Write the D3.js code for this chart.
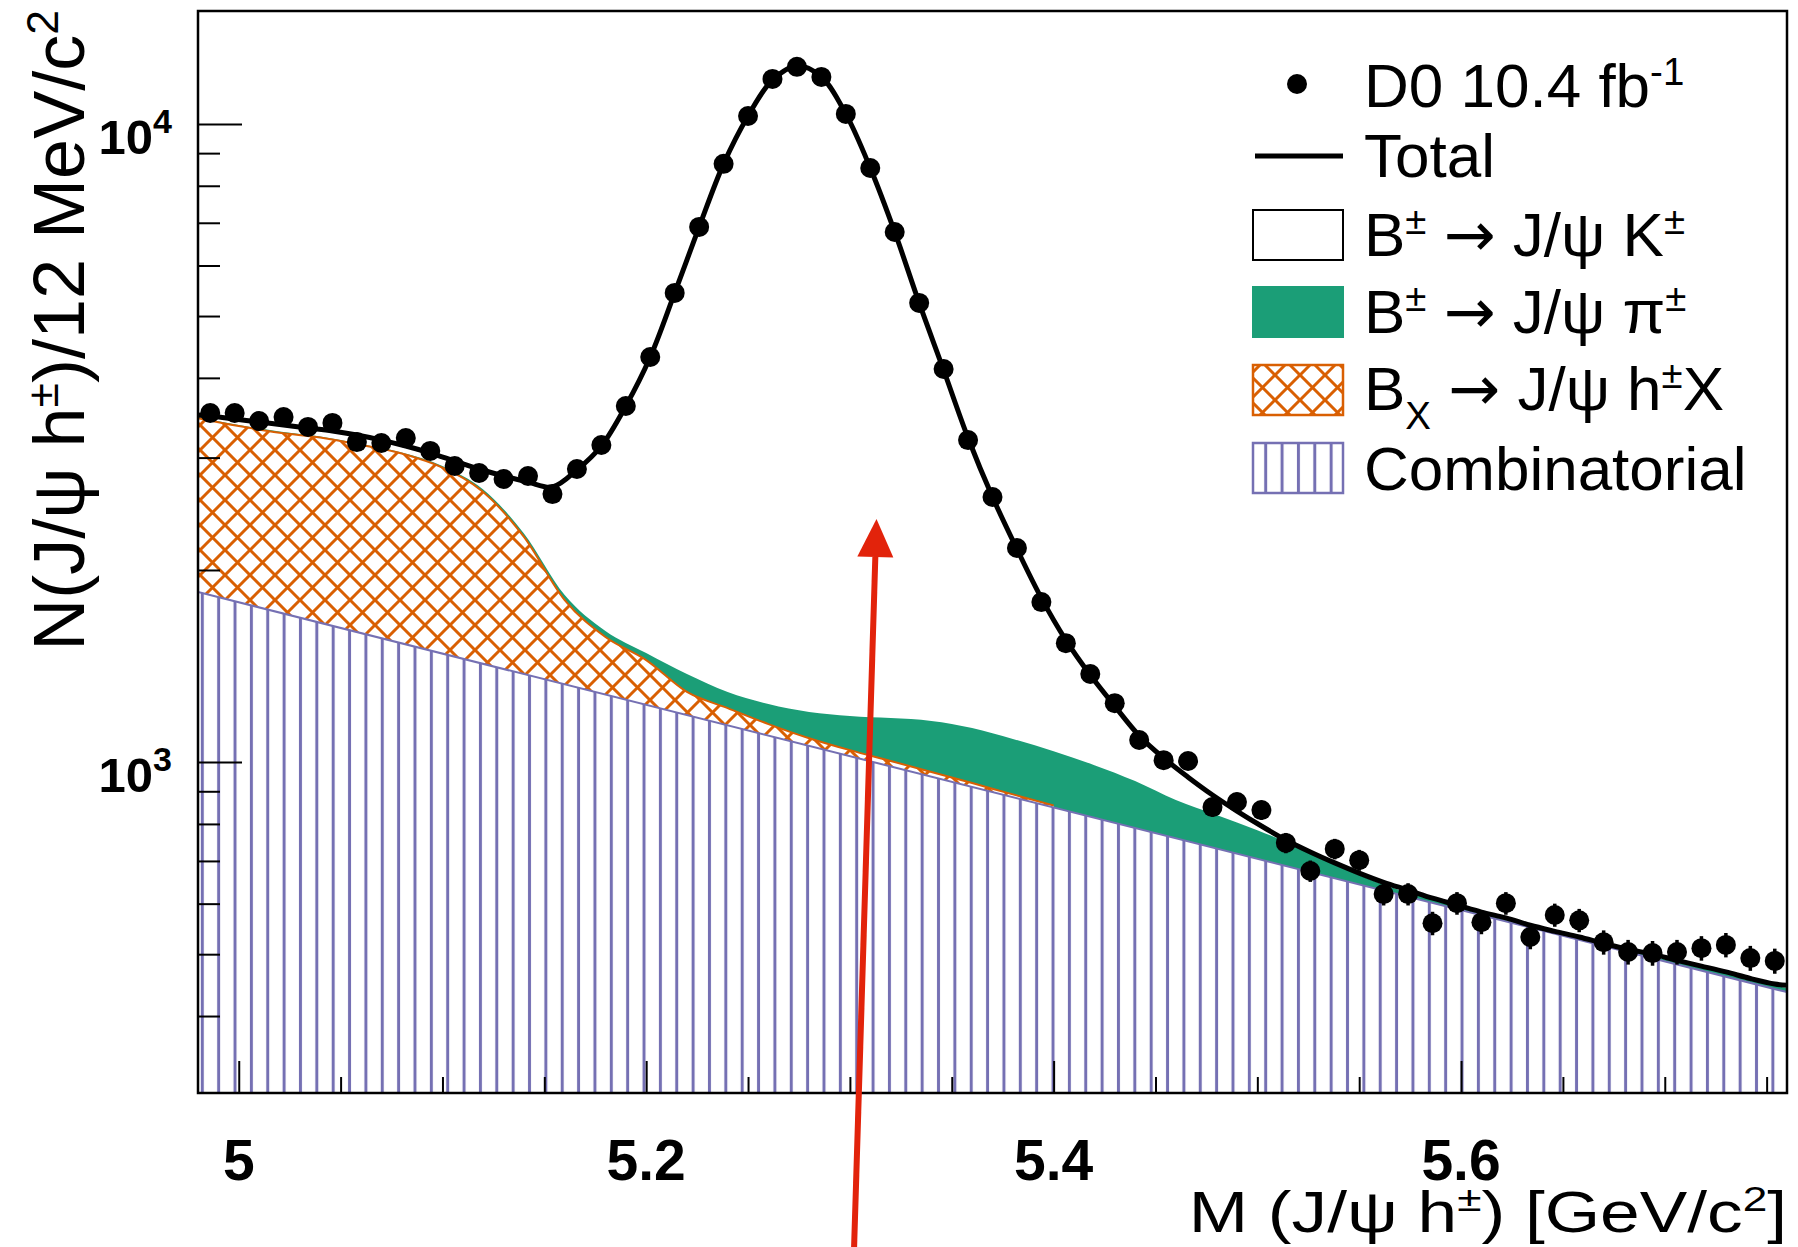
<!DOCTYPE html>
<html>
<head>
<meta charset="utf-8">
<script src="https://cdn.jsdelivr.net/npm/d3@7"></script>
<style>
  html, body { margin: 0; padding: 0; background: #ffffff; }
  svg { display: block; font-family: "Liberation Sans", Arial, Helvetica, sans-serif; }
</style>
</head>
<body>
<svg id="chart" width="1798" height="1247"></svg>
<script>
// ---- data: J/psi h invariant mass, 12 MeV bins from 4.98 to 5.76 GeV ----
const massCenters = [
  4.986, 4.998, 5.010, 5.022, 5.034, 5.046, 5.058, 5.070, 5.082, 5.094,
  5.106, 5.118, 5.130, 5.142, 5.154, 5.166, 5.178, 5.190, 5.202, 5.214,
  5.226, 5.238, 5.250, 5.262, 5.274, 5.286, 5.298, 5.310, 5.322, 5.334,
  5.346, 5.358, 5.370, 5.382, 5.394, 5.406, 5.418, 5.430, 5.442, 5.454,
  5.466, 5.478, 5.490, 5.502, 5.514, 5.526, 5.538, 5.550, 5.562, 5.574,
  5.586, 5.598, 5.610, 5.622, 5.634, 5.646, 5.658, 5.670, 5.682, 5.694,
  5.706, 5.718, 5.730, 5.742, 5.754
];

// observed candidates per bin
const counts = [
  3524, 3524, 3423, 3474, 3351, 3400, 3173, 3162, 3220, 3073,
  2910, 2838, 2777, 2807, 2630, 2879, 3140, 3614, 4313, 5435,
  6896, 8658, 10292, 11763, 12287, 11850, 10368, 8531, 6772, 5242,
  4130, 3196, 2602, 2165, 1781, 1536, 1374, 1237, 1083, 1007,
  1004, 850, 866, 841, 747, 675, 731, 702, 621, 621,
  559, 601, 561, 601, 532, 576, 565, 522, 504, 502,
  504, 511, 517, 493, 488
];

// total fit evaluated at the bin centres, plus the two range edges
const totalFit = [
  3486, 3449, 3411, 3375, 3338, 3302, 3255, 3196, 3128, 3050,
  2963, 2879, 2807, 2747, 2698, 2869, 3128, 3614, 4313, 5435,
  6896, 8658, 10292, 11722, 12330, 11850, 10368, 8531, 6772, 5242,
  4115, 3220, 2602, 2157, 1807, 1553, 1369, 1224, 1100, 1015,
  947, 888, 838, 794, 755, 723, 695, 670, 648, 630,
  612, 597, 582, 570, 555, 543, 532, 520, 509, 500,
  489, 479, 469, 458, 449
];
const rangeEdges = [4.98, 5.76];
const totalAtEdges = [3500, 447];

// combinatorial background (exponential: straight on the log axis)
const combMass = [4.98, 5.76];
const combFit = [1847, 436];

// cumulative: combinatorial + B_X -> J/psi h X
const bxMass = [
  4.98, 5.00, 5.02, 5.04, 5.06, 5.08, 5.10, 5.12, 5.14, 5.16, 5.18,
  5.20, 5.22, 5.24, 5.26, 5.28, 5.30, 5.32, 5.34, 5.36, 5.38, 5.40
];
const bxTop = [
  3459, 3362, 3282, 3225, 3140, 3044, 2893, 2649, 2253, 1794, 1570,
  1445, 1288, 1215, 1147, 1090, 1044, 1004, 965, 927, 890, 855
];

// cumulative: combinatorial + B_X + B -> J/psi pi
const piMass = [
  4.98, 5.00, 5.02, 5.04, 5.06, 5.08, 5.10, 5.12, 5.14, 5.16,
  5.18, 5.20, 5.22, 5.24, 5.26, 5.28, 5.30, 5.32, 5.34, 5.36,
  5.38, 5.40, 5.42, 5.44, 5.46, 5.48, 5.50, 5.52, 5.54, 5.56,
  5.58, 5.60, 5.62, 5.64, 5.66, 5.68, 5.70, 5.72, 5.74, 5.76
];
const piTop = [
  3474, 3375, 3296, 3237, 3151, 3056, 2910, 2673, 2281, 1827,
  1605, 1482, 1374, 1288, 1233, 1198, 1181, 1172, 1160, 1131,
  1087, 1040, 989, 934, 872, 826, 782, 736, 687, 646,
  616, 590, 567, 548, 526, 510, 491, 475, 459, 442
];

// axis ticks
const xMajorTicks = [5.0, 5.2, 5.4, 5.6];
const xTickLabels = ["5", "5.2", "5.4", "5.6"];
const xMinorTicks = [5.05, 5.1, 5.15, 5.25, 5.3, 5.35, 5.45, 5.5, 5.55, 5.65, 5.7, 5.75];
const yMajorTicks = [1000, 10000];
const yTickExponents = ["3", "4"];
const yMinorTicks = [400, 500, 600, 700, 800, 900, 2000, 3000, 4000, 5000, 6000, 7000, 8000, 9000];

// ---- colours ----
const colPi = "#1b9e77";
const colBx = "#d95f02";
const colComb = "#7570b3";
const colArrow = "#e2230b";

// ---- layout ----
const plot = { left: 198, right: 1787, top: 11, bottom: 1093 };

const svg = d3.select("#chart");
const x = d3.scaleLinear().domain([4.98, 5.76]).range([plot.left, plot.right]);
const y = d3.scaleLog().domain([303, 15030]).range([plot.bottom, plot.top]);

const defs = svg.append("defs");
defs.append("clipPath").attr("id", "plotClip")
  .append("rect")
  .attr("x", plot.left).attr("y", plot.top)
  .attr("width", plot.right - plot.left).attr("height", plot.bottom - plot.top);

// vertical hatch for the combinatorial component
const combStep = 16.36;
const combPat = defs.append("pattern").attr("id", "combHatch")
  .attr("patternUnits", "userSpaceOnUse")
  .attr("x", 202.3 - combStep / 2).attr("y", 0)
  .attr("width", combStep).attr("height", 40);
combPat.append("rect").attr("width", combStep).attr("height", 40).attr("fill", "#fff");
combPat.append("line")
  .attr("x1", combStep / 2).attr("x2", combStep / 2).attr("y1", 0).attr("y2", 40)
  .attr("stroke", colComb).attr("stroke-width", 3);

// diagonal cross-hatch for B_X
const bxStep = 25;
const bxPat = defs.append("pattern").attr("id", "bxHatch")
  .attr("patternUnits", "userSpaceOnUse")
  .attr("x", 0).attr("y", 0)
  .attr("width", bxStep).attr("height", bxStep);
bxPat.append("rect").attr("width", bxStep).attr("height", bxStep).attr("fill", "#fff");
const s = bxStep;
bxPat.append("path")
  .attr("d", `M-5,-5L${s + 5},${s + 5}M${s + 5},-5L-5,${s + 5}` +
             `M-5,5L5,-5M${s - 5},${s + 5}L${s + 5},${s - 5}` +
             `M${s - 5},-5L${s + 5},5M-5,${s - 5}L5,${s + 5}`)
  .attr("stroke", colBx).attr("stroke-width", 3).attr("fill", "none");

const gPlot = svg.append("g").attr("clip-path", "url(#plotClip)");

const zip = (xs, ys) => xs.map((m, i) => [m, ys[i]]);

// B -> J/psi pi (drawn first, lower components painted over it)
gPlot.append("path")
  .datum(zip(piMass, piTop))
  .attr("fill", colPi)
  .attr("d", d3.area().curve(d3.curveMonotoneX)
    .x(d => x(d[0])).y0(plot.bottom).y1(d => y(d[1])));

// B_X -> J/psi h X
gPlot.append("path")
  .datum(zip(bxMass, bxTop))
  .attr("fill", "url(#bxHatch)")
  .attr("d", d3.area().curve(d3.curveMonotoneX)
    .x(d => x(d[0])).y0(plot.bottom).y1(d => y(d[1])));
gPlot.append("path")
  .datum(zip(bxMass, bxTop))
  .attr("fill", "none").attr("stroke", colBx).attr("stroke-width", 2)
  .attr("d", d3.line().curve(d3.curveMonotoneX).x(d => x(d[0])).y(d => y(d[1])));

// combinatorial
gPlot.append("path")
  .datum(zip(combMass, combFit))
  .attr("fill", "url(#combHatch)")
  .attr("d", d3.area().x(d => x(d[0])).y0(plot.bottom).y1(d => y(d[1])));
gPlot.append("path")
  .datum(zip(combMass, combFit))
  .attr("fill", "none").attr("stroke", colComb).attr("stroke-width", 2)
  .attr("d", d3.line().x(d => x(d[0])).y(d => y(d[1])));

// total fit
const totalPts = [[rangeEdges[0], totalAtEdges[0]]]
  .concat(zip(massCenters, totalFit))
  .concat([[rangeEdges[1], totalAtEdges[1]]]);
gPlot.append("path")
  .datum(totalPts)
  .attr("fill", "none").attr("stroke", "#000").attr("stroke-width", 5)
  .attr("stroke-linejoin", "round")
  .attr("d", d3.line().curve(d3.curveCatmullRom.alpha(0.5)).x(d => x(d[0])).y(d => y(d[1])));

// data points with Poisson errors
const pts = zip(massCenters, counts);
gPlot.append("g").selectAll("line").data(pts).join("line")
  .attr("x1", d => x(d[0])).attr("x2", d => x(d[0]))
  .attr("y1", d => y(d[1] + Math.sqrt(d[1])))
  .attr("y2", d => y(d[1] - Math.sqrt(d[1])))
  .attr("stroke", "#000").attr("stroke-width", 3.5);
gPlot.append("g").selectAll("circle").data(pts).join("circle")
  .attr("cx", d => x(d[0])).attr("cy", d => y(d[1])).attr("r", 10)
  .attr("fill", "#000");

// frame
svg.append("rect")
  .attr("x", plot.left).attr("y", plot.top)
  .attr("width", plot.right - plot.left).attr("height", plot.bottom - plot.top)
  .attr("fill", "none").attr("stroke", "#000").attr("stroke-width", 2.5);

// y axis ticks (pointing into the frame)
const yAxisG = svg.append("g").attr("transform", `translate(${plot.left},0)`);
yAxisG.append("g").call(d3.axisRight(y).tickValues(yMinorTicks).tickSize(22).tickFormat(""))
  .call(g => g.select(".domain").remove())
  .call(g => g.selectAll("line").attr("stroke-width", 2));
yAxisG.append("g").call(d3.axisRight(y).tickValues(yMajorTicks).tickSize(44).tickFormat(""))
  .call(g => g.select(".domain").remove())
  .call(g => g.selectAll("line").attr("stroke-width", 2));

// x axis ticks (pointing up from the bottom)
const xAxisG = svg.append("g").attr("transform", `translate(0,${plot.bottom})`);
xAxisG.append("g").call(d3.axisTop(x).tickValues(xMinorTicks).tickSize(16).tickFormat(""))
  .call(g => g.select(".domain").remove())
  .call(g => g.selectAll("line").attr("stroke-width", 2));
xAxisG.append("g").call(d3.axisTop(x).tickValues(xMajorTicks).tickSize(32).tickFormat(""))
  .call(g => g.select(".domain").remove())
  .call(g => g.selectAll("line").attr("stroke-width", 2));

// x tick labels
svg.append("g").selectAll("text").data(xMajorTicks).join("text")
  .attr("x", d => x(d)).attr("y", 1180)
  .attr("text-anchor", "middle")
  .attr("font-size", 57).attr("font-weight", "bold")
  .text((d, i) => xTickLabels[i]);

// y tick labels: 10^n
yMajorTicks.forEach((v, i) => {
  const t = svg.append("text")
    .attr("x", 172).attr("y", y(v) + 30)
    .attr("text-anchor", "end")
    .attr("font-size", 49).attr("font-weight", "bold");
  t.append("tspan").text("10");
  t.append("tspan").attr("dy", -21).attr("font-size", 34).text(yTickExponents[i]);
});

// text with super/subscripts: parts = [text, shift, family?]; shift 0 normal, 1 sup, -1 sub
function richText(sel, parts, size) {
  let cur = 0;
  parts.forEach(([str, shift, family]) => {
    const target = shift === 1 ? -0.36 * size : (shift === -1 ? 0.3 * size : 0);
    const ts = sel.append("tspan").attr("dy", target - cur).text(str);
    if (shift !== 0) ts.attr("font-size", size * 0.62);
    if (family) ts.attr("font-family", family);
    cur = target;
  });
}

// axis titles
const yTitle = svg.append("text")
  .attr("transform", "translate(84,10) rotate(-90)")
  .attr("text-anchor", "end").attr("font-size", 72);
richText(yTitle, [["N(J/\u03C8 h", 0], ["\u00B1", 1], [")/12 MeV/c", 0], ["2", 1]], 72);

// the x title is set slightly wide, as in the original figure
const xTitle = svg.append("text")
  .attr("transform", `translate(${plot.right},1232) scale(1.25,1)`)
  .attr("text-anchor", "end").attr("font-size", 57);
richText(xTitle, [["M (J/\u03C8 h", 0], ["\u00B1", 1], [") [GeV/c", 0], ["2", 1], ["]", 0]], 57);

// legend
const legX = 1364, boxX = 1253, boxW = 90, boxH = 50, legSize = 62;
const arrowFont = "DejaVu Sans";
const leg = svg.append("g");
leg.append("circle").attr("cx", 1297).attr("cy", 84).attr("r", 10).attr("fill", "#000");
leg.append("line").attr("x1", boxX + 2).attr("x2", boxX + boxW).attr("y1", 156).attr("y2", 156)
  .attr("stroke", "#000").attr("stroke-width", 5);
leg.append("rect").attr("x", boxX).attr("y", 210).attr("width", boxW).attr("height", boxH)
  .attr("fill", "#fff").attr("stroke", "#000").attr("stroke-width", 2);
leg.append("rect").attr("x", boxX).attr("y", 287).attr("width", boxW).attr("height", boxH)
  .attr("fill", colPi).attr("stroke", colPi).attr("stroke-width", 2);
leg.append("rect").attr("x", boxX).attr("y", 365).attr("width", boxW).attr("height", boxH)
  .attr("fill", "url(#bxHatch)").attr("stroke", colBx).attr("stroke-width", 2.5);
leg.append("rect").attr("x", boxX).attr("y", 443).attr("width", boxW).attr("height", boxH)
  .attr("fill", "url(#combHatch)").attr("stroke", colComb).attr("stroke-width", 2.5);

const legendRows = [
  { y: 107, parts: [["D0 10.4 fb", 0], ["-1", 1]] },
  { y: 177, parts: [["Total", 0]] },
  { y: 256, parts: [["B", 0], ["\u00B1", 1], [" ", 0], ["\u2192", 0, arrowFont], [" J/\u03C8 K", 0], ["\u00B1", 1]] },
  { y: 333, parts: [["B", 0], ["\u00B1", 1], [" ", 0], ["\u2192", 0, arrowFont], [" J/\u03C8 \u03C0", 0], ["\u00B1", 1]] },
  { y: 410, parts: [["B", 0], ["X", -1], [" ", 0], ["\u2192", 0, arrowFont], [" J/\u03C8 h", 0], ["\u00B1", 1], ["X", 0]] },
  { y: 490, parts: [["Combinatorial", 0]] }
];
legendRows.forEach(r => {
  const t = leg.append("text").attr("x", legX).attr("y", r.y).attr("font-size", legSize);
  richText(t, r.parts, legSize);
});

// red annotation arrow
const tail = [854, 1250], tip = [876.5, 519];
const ang = Math.atan2(tip[1] - tail[1], tip[0] - tail[0]);
const headLen = 38, headHalf = 18;
const bx0 = tip[0] - headLen * Math.cos(ang), by0 = tip[1] - headLen * Math.sin(ang);
const px = -Math.sin(ang), py = Math.cos(ang);
svg.append("line")
  .attr("x1", tail[0]).attr("y1", tail[1]).attr("x2", bx0).attr("y2", by0)
  .attr("stroke", colArrow).attr("stroke-width", 6);
svg.append("path")
  .attr("d", `M${tip[0]},${tip[1]}L${bx0 + headHalf * px},${by0 + headHalf * py}` +
             `L${bx0 - headHalf * px},${by0 - headHalf * py}Z`)
  .attr("fill", colArrow);
</script>
</body>
</html>
